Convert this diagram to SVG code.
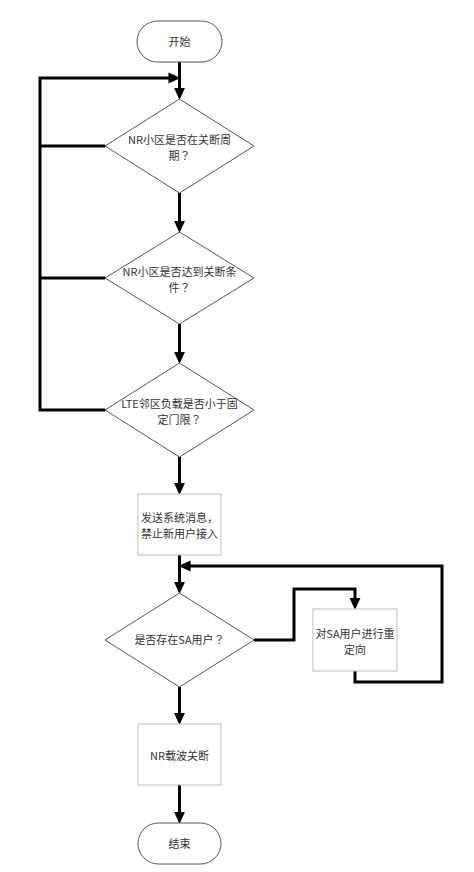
<svg xmlns="http://www.w3.org/2000/svg" width="474" height="872" viewBox="0 0 474 872">
<style>
.term{fill:#fff;stroke:#555;stroke-width:1}
.dia{fill:#fff;stroke:#555;stroke-width:1}
.box{fill:#fff;stroke:#bdbdbd;stroke-width:1}
.t{font-family:"Microsoft YaHei","Noto Sans CJK SC","Liberation Sans",sans-serif;font-size:11px;fill:#333;text-anchor:middle}
.q{font-family:"Noto Sans CJK TC","Noto Sans CJK SC",sans-serif}
.c{fill:none;stroke:#000;stroke-width:3}
</style>
<defs>
<marker id="ah" markerUnits="userSpaceOnUse" markerWidth="12" markerHeight="12" viewBox="0 0 11 10" refX="1" refY="5" orient="auto">
<path d="M0,0 L11,5 L0,10 z" fill="#000"/>
</marker>
</defs>
<rect width="474" height="872" fill="#fff"/>
<g id="connectors">
<path class="c" d="M179.5,62 V89" marker-end="url(#ah)"/>
<path class="c" d="M105,146 H40"/>
<path class="c" d="M105,278 H40"/>
<path class="c" d="M105,410 H40 V78 H169.5" marker-end="url(#ah)"/>
<path class="c" d="M179.5,193 V222" marker-end="url(#ah)"/>
<path class="c" d="M179.5,324 V353" marker-end="url(#ah)"/>
<path class="c" d="M179.5,457 V484" marker-end="url(#ah)"/>
<path class="c" d="M179.5,555 V583" marker-end="url(#ah)"/>
<path class="c" d="M254,640 H294 V589 H355 V599" marker-end="url(#ah)"/>
<path class="c" d="M355,671 V682 H442 V566 H189.5" marker-end="url(#ah)"/>
<path class="c" d="M179.5,687 V714" marker-end="url(#ah)"/>
<path class="c" d="M179.5,785 V813" marker-end="url(#ah)"/>
</g>
<g id="start">
<rect class="term" x="137" y="21" width="85" height="41" rx="20.5"/>
<text class="t" x="179.5" y="45.5">开始</text>
</g>
<g id="d1">
<polygon class="dia" points="179.5,99 254,146 179.5,193 105,146"/>
<text class="t" x="179.5" y="144">NR小区是否在关断周</text>
<text class="t" x="179.5" y="160">期<tspan class="q">？</tspan></text>
</g>
<g id="d2">
<polygon class="dia" points="179.5,232 254,278 179.5,324 105,278"/>
<text class="t" x="179.5" y="276">NR小区是否达到关断条</text>
<text class="t" x="179.5" y="292">件<tspan class="q">？</tspan></text>
</g>
<g id="d3">
<polygon class="dia" points="179.5,363 254,410 179.5,457 105,410"/>
<text class="t" x="179.5" y="408">LTE邻区负载是否小于固</text>
<text class="t" x="179.5" y="424">定门限<tspan class="q">？</tspan></text>
</g>
<g id="r1">
<rect class="box" x="138" y="494" width="83" height="61"/>
<text class="t" x="179.5" y="522">发送系统消息，</text>
<text class="t" x="179.5" y="538">禁止新用户接入</text>
</g>
<g id="d4">
<polygon class="dia" points="179.5,593 254,640 179.5,687 105,640"/>
<text class="t" x="179.5" y="644">是否存在SA用户<tspan class="q">？</tspan></text>
</g>
<g id="r2">
<rect class="box" x="313" y="609" width="84" height="62"/>
<text class="t" x="355" y="638">对SA用户进行重</text>
<text class="t" x="355" y="654">定向</text>
</g>
<g id="r3">
<rect class="box" x="138" y="724" width="83" height="61"/>
<text class="t" x="179.5" y="760">NR载波关断</text>
</g>
<g id="end">
<rect class="term" x="138" y="823" width="83" height="41" rx="20.5"/>
<text class="t" x="179.5" y="848">结束</text>
</g>
</svg>
